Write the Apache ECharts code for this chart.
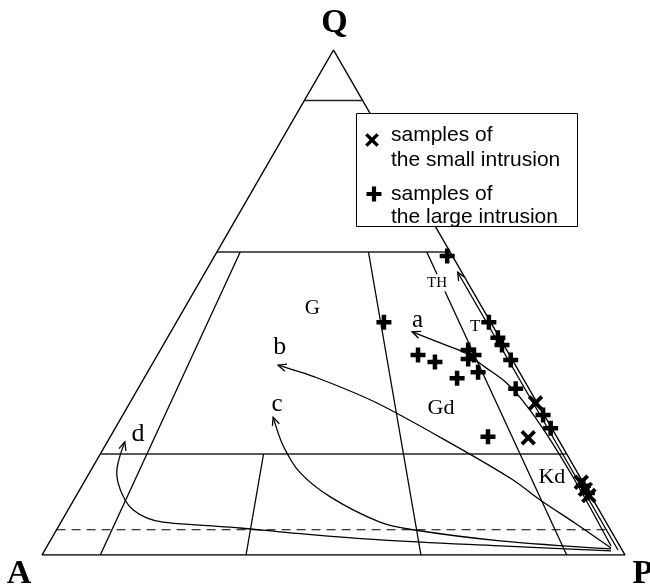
<!DOCTYPE html>
<html>
<head>
<meta charset="utf-8">
<script src="https://cdn.jsdelivr.net/npm/echarts@6/dist/echarts.min.js"></script>
<style>
  html, body { margin: 0; padding: 0; background: #fff; }
  #chart { width: 650px; height: 585px; }
</style>
</head>
<body>
<div id="chart"></div>
<script>
// ---- QAP compositions, [Q, A, P] in percent ----
const largeIntrusion = [
  [59.2, 0.9, 39.9],
  [46.1, 18.3, 35.6],
  [46.1, 0.3, 53.6],
  [43.0, 0.3, 56.7],
  [41.6, 0.3, 58.1],
  [38.6, 0.3, 61.1],
  [40.6, 6.6, 52.8],
  [39.6, 6.1, 54.3],
  [38.8, 7.5, 53.7],
  [36.2, 7.1, 56.7],
  [35.0, 11.3, 53.7],
  [39.6, 15.7, 44.7],
  [38.2, 13.5, 48.3],
  [32.9, 2.3, 64.8],
  [27.7, 0.2, 72.1],
  [25.1, 0.2, 74.7],
  [23.4, 11.8, 64.8],
  [13.7, 0.3, 86.0],
  [12.3, 0.3, 87.4]
];
const smallIntrusion = [
  [30.1, 0.3, 69.6],
  [23.2, 5.0, 71.8],
  [14.4, 0.3, 85.3],
  [13.0, 0.3, 86.7],
  [11.8, 0.3, 87.9]
];

// Differentiation trends, listed from the P corner to the arrow tip
const trendA = [[1.8, 1.5, 96.7], [14.9, 1.2, 83.9], [24.4, 1.5, 74.1], [30.7, 2.3, 67.0], [34.3, 3.4, 62.3],
                [37.2, 5.4, 57.4], [40.0, 7.4, 52.6], [42.0, 10.7, 47.3], [44.2, 14.4, 41.4]];
const trendB = [[1.4, 1.7, 96.9], [6.3, 5.4, 88.3], [10.9, 9.1, 80.0], [14.9, 11.8, 73.3], [22.2, 18.9, 58.9],
                [30.1, 27.5, 42.4], [35.1, 35.3, 29.6], [37.6, 40.7, 21.7]];
const trendC = [[1.2, 1.8, 97.0], [2.8, 20.0, 77.2], [5.0, 33.9, 61.1], [6.5, 38.8, 54.7], [11.5, 44.8, 43.7],
                [16.4, 47.6, 36.0], [21.8, 47.8, 30.4], [27.3, 46.7, 26.0]];
const trendD = [[0.8, 2.0, 97.2], [1.8, 20.5, 77.7], [3.0, 40.5, 56.5], [4.4, 55.2, 40.4], [5.35, 63.35, 31.3],
                [5.9, 70.0, 24.1], [6.5, 76.0, 17.5], [7.3, 78.3, 14.4], [8.9, 79.9, 11.2], [10.9, 80.3, 8.8],
                [14.3, 79.8, 5.9], [17.4, 78.4, 4.2], [22.4, 74.6, 3.0]];
const trendTH = [[1.0, 0.7, 98.3], [56.0, 0.7, 43.3]];

// Field boundaries: Q levels and P/(A+P) ratios
const qLevels = [90, 60, 20];
const qDashed = 5;
const ratioLines = [[10, 60], [35, 20], [65, 60], [90, 60]]; // [ratio %, top Q]

// Field names and their [Q, A, P] anchor
const fieldNames = ['G', 'Gd', 'Kd', 'TH', 'T', 'a', 'b', 'c', 'd'];
const fieldAnchors = [[48.9, 29.2, 21.9], [29.1, 17.0, 53.9], [15.5, 4.8, 79.7], [53.9, 5.3, 40.8],
                      [45.2, 3.1, 51.7], [46.4, 12.4, 41.2], [41.2, 38.6, 20.2], [29.8, 44.8, 25.4], [23.9, 71.6, 4.5]];

const legendLines = [['samples of', 'the small intrusion'], ['samples of', 'the large intrusion']];

// ---- ternary -> cartesian ----
const H = Math.sqrt(3) / 2;
function toXY(t) {
  const s = t[0] + t[1] + t[2];
  const q = t[0] / s * 100, p = t[2] / s * 100;
  return [p + q / 2, q * H];
}
function onRatio(r, q) { return [q, (100 - q) * (1 - r / 100), (100 - q) * r / 100]; }

const SERIF = '"Liberation Serif", "DejaVu Serif", serif';
const SANS = '"Liberation Sans", Arial, sans-serif';

function seg(pts, style) {
  return {
    type: 'line', data: pts.map(toXY), symbol: 'none', silent: true, z: 2,
    lineStyle: Object.assign({ color: '#000', width: 1.4 }, style || {}),
    animation: false
  };
}

function arrowCurve(pts, smooth) {
  return {
    type: 'custom', coordinateSystem: 'cartesian2d', silent: true, z: 3, animation: false,
    data: [[0, 0]],
    renderItem: function (params, api) {
      const px = pts.map(function (p) { return api.coord(toXY(p)); });
      const n = px.length, tip = px[n - 1], prev = px[n - 2];
      const ang = Math.atan2(tip[1] - prev[1], tip[0] - prev[0]);
      const L = 9, spread = 0.42;
      const l = [tip[0] - L * Math.cos(ang - spread), tip[1] - L * Math.sin(ang - spread)];
      const r = [tip[0] - L * Math.cos(ang + spread), tip[1] - L * Math.sin(ang + spread)];
      return {
        type: 'group',
        children: [
          { type: 'polyline', shape: { points: px, smooth: smooth }, style: { stroke: '#000', lineWidth: 1.3, fill: 'none' } },
          { type: 'polyline', shape: { points: [l, tip, r] }, style: { stroke: '#000', lineWidth: 1.3, fill: 'none' } }
        ]
      };
    }
  };
}

const series = [];

// Triangle frame
series.push(seg([[0, 100, 0], [0, 0, 100], [100, 0, 0], [0, 100, 0]], { width: 1.5 }));
// Horizontal Q lines
qLevels.forEach(function (q) {
  series.push(seg([[q, 100 - q, 0], [q, 0, 100 - q]], { color: '#222', width: 1.4 }));
});
series.push(seg([[qDashed, 100 - qDashed, 0], [qDashed, 0, 100 - qDashed]], { type: [9, 6], width: 1.2 }));
// Ratio lines
ratioLines.forEach(function (rl) {
  series.push(seg([onRatio(rl[0], 0), onRatio(rl[0], rl[1])], { width: 1.3 }));
});

// Trend curves with arrows
series.push(arrowCurve(trendA, 0.3));
series.push(arrowCurve(trendB, 0.3));
series.push(arrowCurve(trendC, 0.3));
series.push(arrowCurve(trendD, 0.35));
series.push(arrowCurve(trendTH, 0));

// Field labels
const labelSize = { G: 21, Gd: 22, Kd: 22, TH: 15, T: 17, a: 25, b: 26, c: 25, d: 26 };
series.push({
  type: 'custom', coordinateSystem: 'cartesian2d', silent: true, z: 5, animation: false,
  data: fieldNames.map(function (n, i) { return [i]; }),
  renderItem: function (params, api) {
    const i = params.dataIndex;
    const name = fieldNames[i];
    const c = api.coord(toXY(fieldAnchors[i]));
    return {
      type: 'text', x: c[0], y: c[1],
      style: {
        text: name, font: labelSize[name] + 'px ' + SERIF, fill: '#000',
        align: 'center', verticalAlign: 'middle',
        backgroundColor: name === 'TH' ? '#fff' : null, padding: name === 'TH' ? [1, 1] : 0
      }
    };
  }
});

// Corner labels
const corners = [['Q', [100, 0, 0], [1, -27]], ['A', [0, 100, 0], [-23, 19]], ['P', [0, 0, 100], [18, 19]]];
series.push({
  type: 'custom', coordinateSystem: 'cartesian2d', silent: true, z: 5, animation: false,
  data: corners.map(function (c, i) { return [i]; }),
  renderItem: function (params, api) {
    const c = corners[params.dataIndex];
    const p = api.coord(toXY(c[1]));
    return {
      type: 'text', x: p[0] + c[2][0], y: p[1] + c[2][1],
      style: { text: c[0], font: 'bold 34px ' + SERIF, fill: '#000', align: 'center', verticalAlign: 'middle' }
    };
  }
});

// Samples
const PLUS = 'path://M-2.1,-7H2.1V-2.1H7V2.1H2.1V7H-2.1V2.1H-7V-2.1H-2.1Z';
const THIN_PLUS = 'path://M-1.7,-8H1.7V-1.7H8V1.7H1.7V8H-1.7V1.7H-8V-1.7H-1.7Z';
series.push({
  type: 'scatter', name: 'the large intrusion', data: largeIntrusion.map(toXY), z: 6,
  symbol: PLUS, symbolSize: 15, itemStyle: { color: '#000', opacity: 1 }, silent: true, animation: false
});
series.push({
  type: 'scatter', name: 'the small intrusion', data: smallIntrusion.map(toXY), z: 6,
  symbol: THIN_PLUS, symbolSize: 18, symbolRotate: 45, itemStyle: { color: '#000', opacity: 1 }, silent: true, animation: false
});

// Legend box
function plusPoly(cx, cy, e, h) {
  return [[cx - h, cy - e], [cx + h, cy - e], [cx + h, cy - h], [cx + e, cy - h], [cx + e, cy + h], [cx + h, cy + h],
          [cx + h, cy + e], [cx - h, cy + e], [cx - h, cy + h], [cx - e, cy + h], [cx - e, cy - h], [cx - h, cy - h]];
}
function rot45(pts, cx, cy) {
  const c = Math.SQRT1_2;
  return pts.map(function (p) {
    const dx = p[0] - cx, dy = p[1] - cy;
    return [cx + dx * c - dy * c, cy + dx * c + dy * c];
  });
}
const legendGraphic = [
  { type: 'rect', z: 100, shape: { x: 356.5, y: 113.5, width: 221, height: 113 },
    style: { fill: '#fff', stroke: '#000', lineWidth: 1 } },
  { type: 'polygon', z: 101, shape: { points: rot45(plusPoly(372, 140, 8, 1.7), 372, 140) }, style: { fill: '#000' } },
  { type: 'polygon', z: 101, shape: { points: plusPoly(374, 194, 7.5, 2.1) }, style: { fill: '#000' } }
];
const legendY = [[135, 160], [194, 217]];
legendLines.forEach(function (lines, k) {
  lines.forEach(function (t, j) {
    legendGraphic.push({
      type: 'text', z: 101, x: 391, y: legendY[k][j],
      style: { text: t, font: '21px ' + SANS, fill: '#000', align: 'left', verticalAlign: 'middle' }
    });
  });
});

const chart = echarts.init(document.getElementById('chart'), null, { renderer: 'canvas' });
chart.setOption({
  backgroundColor: '#fff',
  animation: false,
  grid: { left: 42, top: 50, width: 583, height: 505, containLabel: false },
  xAxis: { type: 'value', min: 0, max: 100, show: false },
  yAxis: { type: 'value', min: 0, max: 100 * H, show: false },
  series: series,
  graphic: legendGraphic
});
</script>
</body>
</html>
